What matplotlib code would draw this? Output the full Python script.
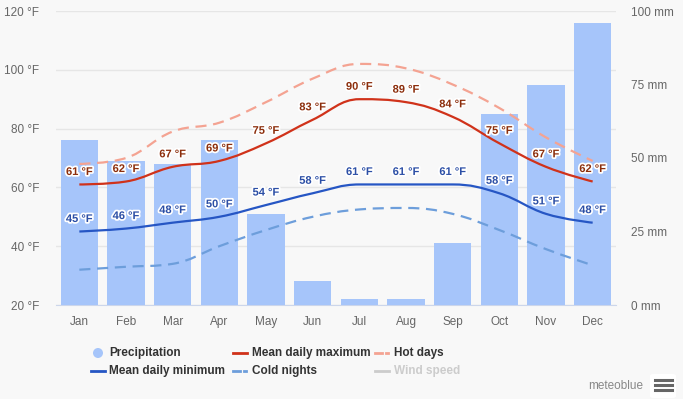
import matplotlib
matplotlib.use("Agg")
import matplotlib.pyplot as plt
from matplotlib.path import Path
from matplotlib.patches import PathPatch, Ellipse, FancyBboxPatch
from matplotlib.lines import Line2D
from matplotlib import font_manager
import matplotlib.patheffects as pe

# data
months = ['Jan', 'Feb', 'Mar', 'Apr', 'May', 'Jun', 'Jul', 'Aug', 'Sep', 'Oct', 'Nov', 'Dec']
precip_mm = [56, 49, 48, 56, 31, 8, 2, 2, 21, 65, 75, 96]
mean_max = [61, 62, 67, 69, 75, 83, 90, 89, 84, 75, 67, 62]
mean_min = [45, 46, 48, 50, 54, 58, 61, 61, 61, 58, 51, 48]
hot_days = [68, 70, 79, 82, 89, 97, 102, 100.5, 95, 87, 77, 69]
cold_nights = [32, 33, 34, 40, 45.5, 50, 52.5, 53, 51, 45.5, 39, 33.5]
left_ticks = [20, 40, 60, 80, 100, 120]
right_ticks = [0, 25, 50, 75, 100]

names = {f.name for f in font_manager.fontManager.ttflist}
FONT = 'Liberation Sans Narrow' if 'Liberation Sans Narrow' in names else 'Liberation Sans'
plt.rcParams['font.family'] = FONT

BG = '#f8f8f8'
W, H = 683, 399


def fx(px):
    return px / W


def fy(py):
    return 1 - py / H


# highcharts-like spline path
def spline_path(xs, ys, smoothing=1.5):
    n = len(xs)
    lc = [(xs[i], ys[i]) for i in range(n)]
    rc = [(xs[i], ys[i]) for i in range(n)]
    d = smoothing + 1
    for i in range(1, n - 1):
        x, y = xs[i], ys[i]
        lx = (smoothing * x + xs[i - 1]) / d
        ly = (smoothing * y + ys[i - 1]) / d
        rx = (smoothing * x + xs[i + 1]) / d
        ry = (smoothing * y + ys[i + 1]) / d
        corr = (ry - ly) * (rx - x) / (rx - lx) + y - ry
        ly += corr
        ry += corr
        if ly > ys[i - 1] and ly > y:
            ly = max(ys[i - 1], y)
            ry = 2 * y - ly
        elif ly < ys[i - 1] and ly < y:
            ly = min(ys[i - 1], y)
            ry = 2 * y - ly
        if ry > ys[i + 1] and ry > y:
            ry = max(ys[i + 1], y)
            ly = 2 * y - ry
        elif ry < ys[i + 1] and ry < y:
            ry = min(ys[i + 1], y)
            ly = 2 * y - ry
        lc[i] = (lx, ly)
        rc[i] = (rx, ry)
    verts = [(xs[0], ys[0])]
    codes = [Path.MOVETO]
    for i in range(1, n):
        verts += [rc[i - 1], lc[i], (xs[i], ys[i])]
        codes += [Path.CURVE4] * 3
    return Path(verts, codes)


x = list(range(len(months)))

fig = plt.figure(figsize=(W / 100, H / 100), dpi=100, facecolor=BG)
rect = [fx(56), fy(305), 560 / W, 294 / H]

# base axis: grid + left labels
ax = fig.add_axes(rect)
ax.set_facecolor(BG)
ax.set_xlim(-0.5, 11.5)
ax.set_ylim(20, 120)
ax.set_yticks(left_ticks)
ax.set_yticklabels([f'{t} °F' for t in left_ticks])
ax.grid(axis='y', color='#e6e6e6', linewidth=1)
ax.set_xticks(x)
ax.set_xticklabels(months)
ax.tick_params(axis='both', length=0, colors='#666666', labelsize=8.5)
ax.tick_params(axis='x', pad=8)
ax.tick_params(axis='y', pad=12)
for s in ['top', 'left', 'right']:
    ax.spines[s].set_visible(False)
ax.spines['bottom'].set_color('#ccd6eb')

# bars on mm axis
ax2 = ax.twinx()
ax2.set_ylim(0, 100)
ax2.set_yticks(right_ticks)
ax2.set_yticklabels([f'{t} mm' for t in right_ticks])
ax2.tick_params(axis='y', length=0, colors='#666666', labelsize=8.5, pad=11)
ax2.bar(x, precip_mm, width=0.8, color='#a6c5fa', zorder=2)
for s in ax2.spines.values():
    s.set_visible(False)

# lines on top
ax3 = ax.twinx()
ax3.set_ylim(20, 120)
ax3.set_xlim(-0.5, 11.5)
ax3.axis('off')

series = [
    (hot_days, '#f4a392', (5, 3)),
    (cold_nights, '#6d9edb', (5, 3)),
    (mean_max, '#d0321a', None),
    (mean_min, '#2656c4', None),
]
for vals, col, dash in series:
    p = PathPatch(spline_path(x, vals), facecolor='none', edgecolor=col, lw=1.6)
    if dash:
        p.set_linestyle((0, dash))
    ax3.add_patch(p)

stroke = [pe.withStroke(linewidth=2.5, foreground='white')]
for i in x:
    ax3.annotate(f'{mean_max[i]} °F', (i, mean_max[i]), xytext=(0, 9), textcoords='offset points',
                 ha='center', va='center', fontsize=8, fontweight='bold', color='#8c2e0c',
                 path_effects=stroke)
    ax3.annotate(f'{mean_min[i]} °F', (i, mean_min[i]), xytext=(0, 9), textcoords='offset points',
                 ha='center', va='center', fontsize=8, fontweight='bold', color='#2c4fa6',
                 path_effects=stroke)

# legend
leg_font = dict(fontsize=8.5, fontweight='bold', va='center', ha='left')
fig.add_artist(Ellipse((fx(98), fy(353)), 10 / W, 10 / H, transform=fig.transFigure,
                       color='#a6c5fa', ec='none'))
fig.text(fx(109), fy(353), 'Precipitation', color='#333333', **leg_font)
items = [
    (233, 353, 252, 'Mean daily maximum', '#d0321a', False, '#333333'),
    (375, 353, 394, 'Hot days', '#f4a392', True, '#333333'),
    (91, 371, 109, 'Mean daily minimum', '#2656c4', False, '#333333'),
    (233, 371, 252, 'Cold nights', '#6d9edb', True, '#333333'),
    (375, 371, 394, 'Wind speed', '#cccccc', False, '#cccccc'),
]
for x0, yy, tx, label, col, dashed, tcol in items:
    if dashed:
        fig.add_artist(Line2D([fx(x0), fx(x0 + 7)], [fy(yy), fy(yy)], color=col, lw=2,
                              transform=fig.transFigure))
        fig.add_artist(Line2D([fx(x0 + 11), fx(x0 + 13)], [fy(yy), fy(yy)], color=col, lw=2,
                              transform=fig.transFigure))
    else:
        fig.add_artist(Line2D([fx(x0), fx(x0 + 14)], [fy(yy), fy(yy)], color=col, lw=2,
                              transform=fig.transFigure))
    fig.text(fx(tx), fy(yy), label, color=tcol, **leg_font)

# credit + menu icon
fig.text(fx(643), fy(386), 'meteoblue', color='#888888', fontsize=8.5, ha='right', va='center')
fig.add_artist(FancyBboxPatch((fx(650), fy(398)), 26 / W, 24 / H, transform=fig.transFigure,
                              boxstyle='round,pad=0,rounding_size=0.005', fc='white', ec='none'))
for yy in (380, 385, 390):
    fig.add_artist(Line2D([fx(655), fx(672)], [fy(yy), fy(yy)], color='#666666', lw=2.2,
                          transform=fig.transFigure))

fig.savefig('out.png', dpi=100, facecolor=BG)
